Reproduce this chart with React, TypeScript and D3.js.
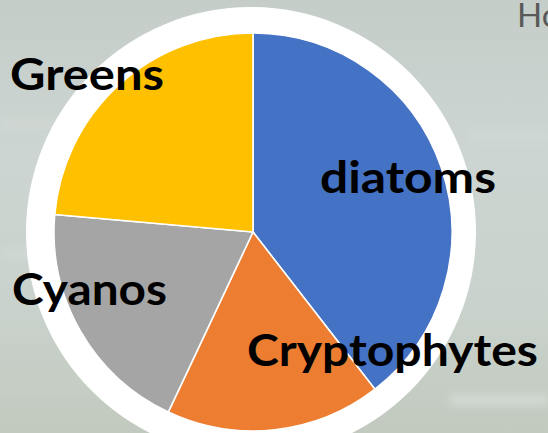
import React, { useEffect, useRef } from "react";
import * as d3 from "d3";

// phytoplankton groups, clockwise from 12 o'clock
const groups = ["diatoms", "Cryptophytes", "Cyanos", "Greens"];
const shares = [39.5, 17.5, 19.4, 23.6];
const colors = ["#4472C4", "#ED7D31", "#A5A5A5", "#FFC000"];

// where each label sits (x of left edge, baseline y, fitted width)
const labelLayout: Record<string, [number, number, number]> = {
  diatoms: [320, 193, 176],
  Cryptophytes: [247, 366, 291],
  Cyanos: [12, 305, 155],
  Greens: [10, 90, 154],
};

const W = 548;
const H = 433;

export default function App() {
  const ref = useRef<SVGSVGElement | null>(null);

  useEffect(() => {
    document.body.style.margin = "0";
    const svg = d3.select(ref.current!);
    svg.selectAll("*").remove();

    const defs = svg.append("defs");
    const grad = defs
      .append("linearGradient")
      .attr("id", "bg")
      .attr("x1", 0)
      .attr("y1", 0)
      .attr("x2", 0)
      .attr("y2", 1);
    grad.append("stop").attr("offset", "0%").attr("stop-color", "#c5cdc9");
    grad.append("stop").attr("offset", "35%").attr("stop-color", "#ccd5d1");
    grad.append("stop").attr("offset", "70%").attr("stop-color", "#c9d2cc");
    grad.append("stop").attr("offset", "100%").attr("stop-color", "#c2cabf");
    defs
      .append("filter")
      .attr("id", "blur")
      .append("feGaussianBlur")
      .attr("stdDeviation", 4);

    svg.append("rect").attr("width", W).attr("height", H).attr("fill", "url(#bg)");

    // soft water streaks
    const streaks = svg.append("g").attr("filter", "url(#blur)").attr("opacity", 0.5);
    [
      [0, 120, 120, 10, "#d5ddd9"],
      [0, 250, 90, 8, "#d6dfdb"],
      [470, 130, 80, 12, "#d3dcd7"],
      [450, 395, 98, 10, "#e3e9e6"],
      [0, 380, 110, 14, "#c8d0c6"],
    ].forEach(([x, y, w, h, c]) =>
      streaks
        .append("rect")
        .attr("x", x as number)
        .attr("y", y as number)
        .attr("width", w as number)
        .attr("height", h as number)
        .attr("fill", c as string)
    );

    const cx = 253;
    const cy = 232;
    const r = 199;

    // white disc behind the pie
    svg
      .append("circle")
      .attr("cx", 251)
      .attr("cy", cy)
      .attr("r", 225)
      .attr("fill", "#ffffff");

    const pie = d3
      .pie<number>()
      .sort(null)
      .value((d) => d);
    const arc = d3.arc<d3.PieArcDatum<number>>().innerRadius(0).outerRadius(r);

    svg
      .append("g")
      .attr("transform", `translate(${cx},${cy})`)
      .selectAll("path")
      .data(pie(shares))
      .join("path")
      .attr("d", arc)
      .attr("fill", (_, i) => colors[i])
      .attr("stroke", "#ffffff")
      .attr("stroke-width", 1.6);

    svg
      .append("g")
      .selectAll("text")
      .data(groups)
      .join("text")
      .attr("x", (d) => labelLayout[d][0])
      .attr("y", (d) => labelLayout[d][1])
      .attr("textLength", (d) => labelLayout[d][2])
      .attr("lengthAdjust", "spacingAndGlyphs")
      .attr("font-family", "Lato, 'Open Sans', sans-serif")
      .attr("font-weight", 700)
      .attr("font-size", 44)
      .attr("fill", "#000000")
      .text((d) => d);

    svg
      .append("text")
      .attr("x", 517)
      .attr("y", 27)
      .attr("font-family", "Lato, 'Open Sans', sans-serif")
      .attr("font-size", 33)
      .attr("fill", "#595959")
      .text("How");
  }, []);

  return (
    <svg
      ref={ref}
      width={W}
      height={H}
      style={{ position: "fixed", left: 0, top: 0, display: "block" }}
    />
  );
}
